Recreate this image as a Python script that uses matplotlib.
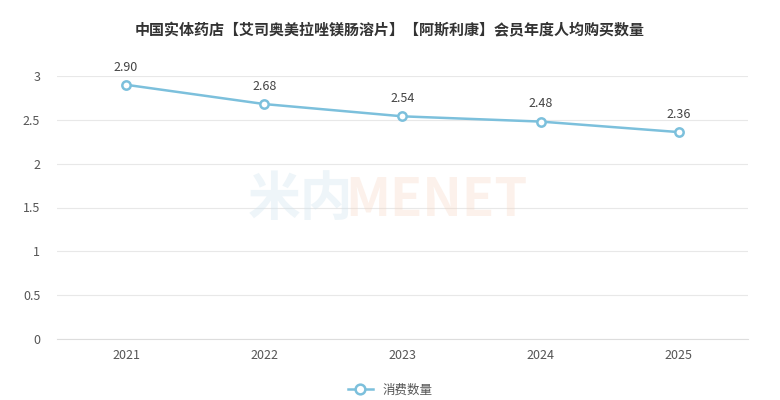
import matplotlib
matplotlib.use("Agg")
import matplotlib.pyplot as plt
from matplotlib.lines import Line2D

plt.rcParams['font.family'] = ['Noto Sans CJK SC', 'DejaVu Sans']

years = ['2021', '2022', '2023', '2024', '2025']
values = [2.90, 2.68, 2.54, 2.48, 2.36]
yticks = [0, 0.5, 1, 1.5, 2, 2.5, 3]
title = '中国实体药店【艾司奥美拉唑镁肠溶片】【阿斯利康】会员年度人均购买数量'
series_name = '消费数量'

color = '#7cc0dc'
fig = plt.figure(figsize=(7.8, 4.0), dpi=100)
ax = fig.add_axes([0.073, 0.1525, 0.886, 0.6575])

x = list(range(len(years)))
ax.plot(x, values, color=color, lw=1.8, marker='o', ms=6,
        mfc='white', mec=color, mew=1.8, zorder=3, clip_on=False)
for xi, v in zip(x, values):
    ax.annotate(f'{v:.2f}', (xi, v), xytext=(0, 8), textcoords='offset points',
                ha='center', va='bottom', fontsize=9, color='#444444')

ax.set_xlim(-0.5, len(years) - 0.5)
ax.set_ylim(0, 3)
ax.set_yticks(yticks)
ax.set_yticklabels([f'{t:g}' for t in yticks])
ax.set_xticks(x)
ax.set_xticklabels(years)
ax.grid(axis='y', color='#e8e8e8', lw=0.8)
ax.set_axisbelow(True)
for s in ['top', 'right', 'left']:
    ax.spines[s].set_visible(False)
ax.spines['bottom'].set_color('#dddddd')
ax.tick_params(axis='both', length=0, labelsize=9, colors='#555555')
ax.tick_params(axis='y', pad=12)
ax.tick_params(axis='x', pad=7)

fig.text(0.5, 0.925, title, ha='center', va='center', fontsize=10.8,
         fontweight='bold', color='#333333')

fig.text(0.385, 0.5, '米内', ha='center', va='center', fontsize=38,
         fontweight='bold', color='#cfe3ee', alpha=0.35)
fig.text(0.56, 0.5, 'MENET', ha='center', va='center', fontsize=38,
         fontweight='bold', color='#f6d2bd', alpha=0.3)

handle = Line2D([], [], color=color, lw=1.8, marker='o', ms=7,
                mfc='white', mec=color, mew=1.8)
fig.legend([handle], [series_name], loc='center', bbox_to_anchor=(0.5, 0.025),
           frameon=False, fontsize=9, handlelength=2.0, labelcolor='#555555')

fig.savefig('out.png', dpi=100)
